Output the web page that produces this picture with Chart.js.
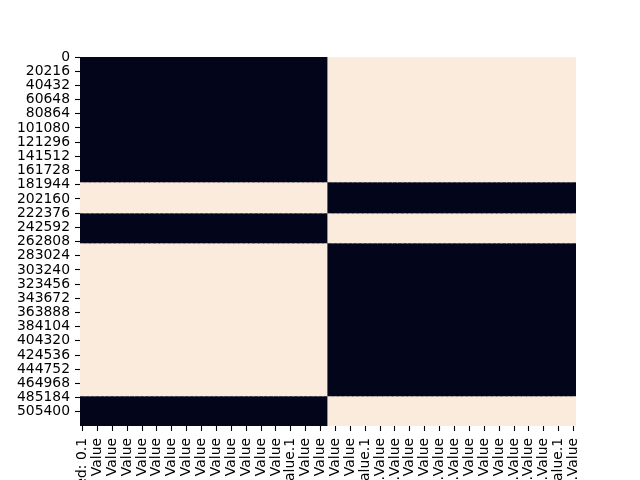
<!DOCTYPE html>
<html>
<head>
<meta charset="utf-8">
<script src="https://cdn.jsdelivr.net/npm/chart.js@4/dist/chart.umd.min.js"></script>
<style>
  html, body { margin: 0; padding: 0; background: #ffffff; }
  #c { display: block; }
</style>
</head>
<body>
<canvas id="c" width="640" height="480"></canvas>
<script>
// ---- data (missing-value map: 1 = missing, 0 = present) ----
const nRows = 525600;

const leftColumns = [
  "Unnamed: 0.1", "Y1962 Value", "Y1963 Value", "Y1964 Value", "Y1965 Value", "Y1966 Value",
  "Y1967 Value", "Y1968 Value", "Y1969 Value", "Y1970 Value", "Y1971 Value", "Y1972 Value",
  "Y1973 Value", "Y1974 Value", "Y1975 Value", "Y1976 Value", "Y1977 Value", "Y1978 Value",
  "Y1979 Value", "Y1980 Value", "Y1981 Value", "Y1982 Value", "Y1983 Value", "Y1984 Value",
  "Y1985 Value", "Y1986 Value", "Y1987 Value", "Y1988 Value", "Y1989 Value", "Y1990 Value",
  "Y1991 Value", "Y1992 Value", "Y1993 Value", "Y1994 Value", "Y1995 Value", "Y1996 Value",
  "Y1997 Value", "Y1998 Value", "Y1999 Value", "Y2000 Value", "Y2001 Value", "Y2002 Value",
  "Y2003 Value.1", "Y2004 Value", "Y2005 Value", "Y2006 Value", "Y2007 Value", "Y2008 Value",
  "Y2009 Value", "Y2010 Value"
];
const rightColumns = [
  "Z1961 Value", "Z1962 Value", "Z1963 Value", "Z1964 Value", "Z1965 Value", "Z1966 Value",
  "Z1967 Value", "Z1968 Value.1", "Z1969 Value", "Z1970 Value", "Z1971.Value", "Z1972 Value",
  "Z1973 Value", "Z1974.Value", "Z1975 Value", "Z1976 Value", "Z1977 Value", "Z1978 Value",
  "Z1979 Value", "Z1980 Value", "Z1981 Value", "Z1982 Value", "Z1983.Value", "Z1984 Value",
  "Z1985 Value", "Z1986.Value", "Z1987 Value", "Z1988 Value", "Z1989 Value", "Z1990 Value",
  "Z1991 Value", "Z1992 Value", "Z1993 Value", "Z1994 Value", "Z1995 Value", "Z1996 Value",
  "Z1997 Value", "Z1998.Value", "Z1999 Value", "Z2000 Value", "Z2001.Value", "Z2002 Value",
  "Z2003 Value", "Z2004.Value", "Z2005 Value", "Z2006 Value", "Z2007 Value.1", "Z2008 Value",
  "Z2009 Value", "Z2010.Value"
];

const segmentStarts = [0, 177600, 221800, 264500, 482400];
const segmentEnds   = [177600, 221800, 264500, 482400, 525600];
const leftMissing   = [0, 1, 0, 1, 0];
const rightMissing  = [1, 0, 1, 0, 1];

const yTickLabels = [0, 20216, 40432, 60648, 80864, 101080, 121296, 141512, 161728, 181944,
  202160, 222376, 242592, 262808, 283024, 303240, 323456, 343672, 363888, 384104,
  404320, 424536, 444752, 464968, 485184, 505400];
const xTickEvery = 3;

// ---- styling ----
const presentColor = '#03051A';
const missingColor = '#FAEBDD';
const FONT = 'DejaVu Sans';

const categories = leftColumns.concat(rightColumns);

const datasets = segmentStarts.map((s, k) => {
  const data = [];
  const colors = [];
  categories.forEach((name, i) => {
    const miss = i < leftColumns.length ? leftMissing[k] : rightMissing[k];
    data.push([s, segmentEnds[k]]);
    colors.push(miss ? missingColor : presentColor);
  });
  return {
    data: data,
    backgroundColor: colors,
    borderWidth: 0,
    inflateAmount: 0.6,
    grouped: false,
    categoryPercentage: 1.0,
    barPercentage: 1.0
  };
});

new Chart(document.getElementById('c'), {
  type: 'bar',
  data: { labels: categories, datasets: datasets },
  options: {
    responsive: false,
    devicePixelRatio: 1,
    animation: false,
    layout: { padding: { top: 57, right: 64, left: 0, bottom: 0 } },
    plugins: { legend: { display: false }, tooltip: { enabled: false } },
    scales: {
      x: {
        type: 'category',
        offset: true,
        border: { display: false },
        grid: { display: true, drawOnChartArea: false, drawTicks: true, offset: false,
                tickLength: 5, tickWidth: 1.1, tickColor: '#000000' },
        ticks: {
          autoSkip: false, maxRotation: 90, minRotation: 90, padding: 7,
          color: '#000000', font: { family: FONT, size: 13.9 }
        },
        afterBuildTicks: (scale) => {
          scale.ticks = scale.ticks.filter(t => t.value % xTickEvery === 0);
        },
        afterFit: (scale) => { scale.height = 54; }
      },
      y: {
        type: 'linear',
        reverse: true,
        min: 0,
        max: nRows,
        border: { display: false },
        grid: { display: true, drawOnChartArea: false, drawTicks: true,
                tickLength: 5, tickWidth: 1.1, tickColor: '#000000' },
        ticks: {
          autoSkip: false, padding: 5, color: '#000000', font: { family: FONT, size: 13.9 },
          callback: (value, index) => String(yTickLabels[index])
        },
        afterBuildTicks: (scale) => {
          scale.ticks = yTickLabels.map(v => ({ value: v + 0.5 }));
        },
        afterFit: (scale) => { scale.width = 80; }
      }
    }
  }
});
</script>
</body>
</html>
